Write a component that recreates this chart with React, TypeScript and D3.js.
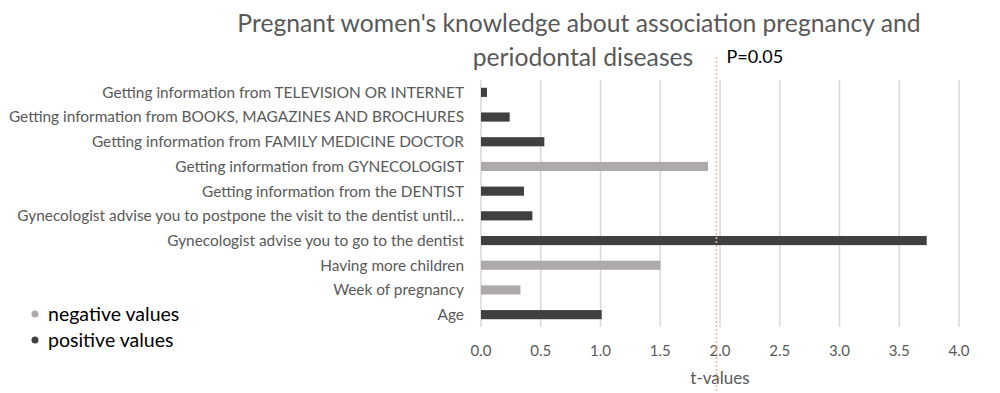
import { useEffect, useRef } from 'react';
import * as d3 from 'd3';

// Categories listed top to bottom as shown
const categories = [
  'Getting information from TELEVISION OR INTERNET',
  'Getting information from BOOKS, MAGAZINES AND BROCHURES',
  'Getting information from FAMILY MEDICINE DOCTOR',
  'Getting information from GYNECOLOGIST',
  'Getting information from the DENTIST',
  'Gynecologist advise you to postpone the visit to the dentist until\u2026',
  'Gynecologist advise you to go to the dentist',
  'Having more children',
  'Week of pregnancy',
  'Age',
];
const tValues = [0.05, 0.24, 0.53, 1.9, 0.36, 0.43, 3.73, 1.5, 0.33, 1.01];
const signs = ['pos', 'pos', 'pos', 'neg', 'pos', 'pos', 'pos', 'neg', 'neg', 'pos'];
const xTicks = [0, 0.5, 1, 1.5, 2, 2.5, 3, 3.5, 4];
const pThreshold = 1.97;

const COLOR_NEG = '#aeaaaa';
const COLOR_POS = '#404040';
const FONT = 'Lato, "Open Sans", sans-serif';

export default function App() {
  const svgRef = useRef<SVGSVGElement>(null);
  const width = 1000;
  const height = 393;

  useEffect(() => {
    if (!svgRef.current) return;
    const svg = d3.select(svgRef.current);
    svg.selectAll('*').remove();

    const margin = { top: 80, right: 41, bottom: 66, left: 481 };
    const innerWidth = width - margin.left - margin.right;
    const innerHeight = height - margin.top - margin.bottom;

    svg.append('rect').attr('width', width).attr('height', height).attr('fill', '#fff');

    const g = svg.append('g').attr('transform', `translate(${margin.left},${margin.top})`);

    const x = d3.scaleLinear().domain([0, 4]).range([0, innerWidth]);
    const y = d3.scaleBand<string>().domain(categories).range([0, innerHeight]).paddingInner(0.63).paddingOuter(0.315);

    // grid
    g.selectAll('.grid')
      .data(xTicks)
      .enter()
      .append('line')
      .attr('x1', (d) => x(d))
      .attr('x2', (d) => x(d))
      .attr('y1', 0)
      .attr('y2', innerHeight)
      .attr('stroke', '#d9d9d9')
      .attr('stroke-width', 1.5);

    // tick labels
    g.selectAll('.tick-label')
      .data(xTicks)
      .enter()
      .append('text')
      .attr('x', (d) => x(d))
      .attr('y', innerHeight + 29)
      .attr('text-anchor', 'middle')
      .attr('fill', '#595959')
      .attr('font-family', FONT)
      .attr('font-size', '15px')
      .text((d) => d.toFixed(1));

    // category labels
    g.selectAll('.cat-label')
      .data(categories)
      .enter()
      .append('text')
      .attr('x', -17)
      .attr('y', (d) => (y(d) ?? 0) + y.bandwidth() / 2)
      .attr('dy', '0.35em')
      .attr('text-anchor', 'end')
      .attr('fill', '#595959')
      .attr('font-family', FONT)
      .attr('font-size', '15.4px')
      .text((d) => d);

    // bars
    categories.forEach((c, i) => {
      g.append('rect')
        .attr('x', x(0))
        .attr('y', y(c) ?? 0)
        .attr('width', x(tValues[i]) - x(0))
        .attr('height', y.bandwidth())
        .attr('fill', signs[i] === 'neg' ? COLOR_NEG : COLOR_POS);
    });

    // P=0.05 threshold
    svg.append('line')
      .attr('x1', margin.left + x(pThreshold))
      .attr('x2', margin.left + x(pThreshold))
      .attr('y1', 57)
      .attr('y2', height)
      .attr('stroke', '#f4b183')
      .attr('stroke-width', 1.5)
      .attr('stroke-dasharray', '2,2');

    svg.append('text')
      .attr('x', margin.left + x(pThreshold) + 10)
      .attr('y', 63)
      .attr('fill', '#000')
      .attr('font-family', FONT)
      .attr('font-size', '18px')
      .text('P=0.05');

    // axis title
    g.append('text')
      .attr('x', x(2))
      .attr('y', innerHeight + 57)
      .attr('text-anchor', 'middle')
      .attr('fill', '#595959')
      .attr('font-family', FONT)
      .attr('font-size', '17px')
      .text('t-values');

    // chart title
    const title = svg.append('text')
      .attr('text-anchor', 'middle')
      .attr('fill', '#595959')
      .attr('font-family', FONT)
      .attr('font-size', '24.7px');
    title.append('tspan').attr('x', 579).attr('y', 32).text("Pregnant women's knowledge about association pregnancy and");
    title.append('tspan').attr('x', 583).attr('y', 66).text('periodontal diseases');

    // legend
    const legend = [
      { label: 'negative values', color: COLOR_NEG },
      { label: 'positive values', color: COLOR_POS },
    ];
    legend.forEach((item, i) => {
      svg.append('circle')
        .attr('cx', 35)
        .attr('cy', 314 + i 	* 26)
        .attr('r', 3.5)
        .attr('fill', item.color);
      svg.append('text')
        .attr('x', 48)
        .attr('y', 314 + i * 26)
        .attr('dy', '0.35em')
        .attr('fill', '#000')
        .attr('font-family', FONT)
        .attr('font-size', '19.5px')
        .text(item.label);
    });
  }, []);

  return (
    <svg
      ref={svgRef}
      width={width}
      height={height}
      style={{ position: 'absolute', left: 0, top: 0, display: 'block' }}
    />
  );
}
